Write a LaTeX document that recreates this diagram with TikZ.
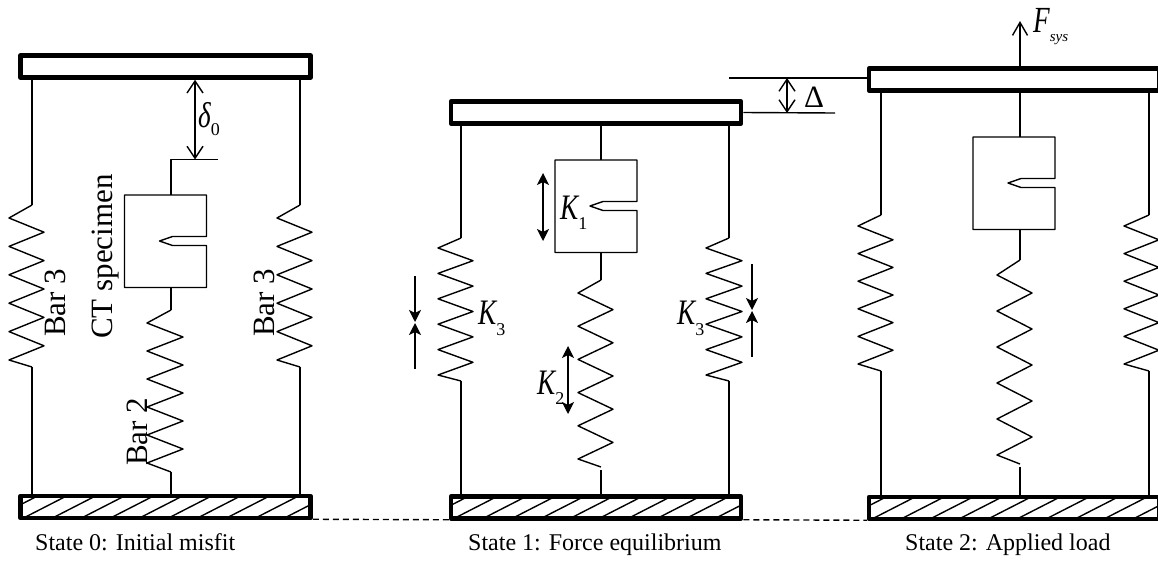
\documentclass[tikz,border=0pt]{standalone}
\usepackage{fontspec}
\setmainfont{Liberation Serif}
\usetikzlibrary{arrows.meta}

% zigzag: start, end, left x, right x, first left tip y, half period
\newcommand{\zigspring}[6]{%
  \draw[barline] (#1) \foreach \k in {0,...,4} {-- (#3,{#5+2*\k*#6}) -- (#4,{#5+(2*\k+1)*#6})}
    -- (#3,{#5+10*#6}) -- (#2);}
\newcommand{\specimen}[1]{%
  \draw[barline,shift={(#1)}] (0,0) -- (82,0) -- (82,41.5) -- (48,41.5) -- (35,46) -- (48,50.5)
    -- (82,50.5) -- (82,92.5) -- (0,92.5) -- cycle;}
% letter with a hand-placed subscript
\newcommand{\symb}[3]{\scalebox{0.85}[1.12]{\fontsize{32}{32}\selectfont\itshape #1}\raisebox{#3}{\fontsize{18}{18}\selectfont #2}}

\tikzset{
  barline/.style={line width=1.4pt,line join=round},
  plate/.style={draw,line width=4.5pt,line join=round,fill=white,inner sep=0pt,minimum width=290pt,minimum height=22pt},
  hatched/.style={path picture={\foreach \k in {-1,...,10}
    {\draw[barline] ([xshift={3pt+\k*29pt}]path picture bounding box.south west)
      -- ([xshift={46pt+\k*29pt},yshift=22pt]path picture bounding box.south west);}}},
  barb/.style={line width=1.4pt,{Straight Barb[length=12pt,width=16pt]}-{Straight Barb[length=12pt,width=16pt]}},
  force/.style={line width=1.4pt,-{Straight Barb[length=13pt,width=15pt]}},
  stiff/.style={line width=1.4pt,{Stealth[length=12pt,width=12pt,inset=3pt]}-{Stealth[length=12pt,width=12pt,inset=3pt]}},
  squeeze/.style={line width=1.4pt,-{Stealth[length=12pt,width=12pt,inset=3pt]}},
  lbl/.style={inner sep=0pt,anchor=base west},
  barlbl/.style={inner sep=0pt,anchor=base west,rotate=90,font=\fontsize{31}{31}\selectfont},
  caption/.style={inner sep=0pt,anchor=base west,font=\fontsize{24}{24}\selectfont}
}

\begin{document}
\begin{tikzpicture}[x=1pt,y=-1pt]
\useasboundingbox (0,0) rectangle (1158,560);
% ---------- state 0: initial misfit ----------
\node[plate] (top0) at (165.5,66.5) {};
\node[plate,hatched] (base0) at (165.5,507) {};
\coordinate (s0a) at (32,205); \coordinate (s0b) at (32,367);
\coordinate (s0c) at (300,205); \coordinate (s0d) at (300,367);
\draw[barline] (top0.south -| s0a) -- (s0a);
\draw[barline] (s0b) -- (base0.north -| s0b);
\draw[barline] (top0.south -| s0c) -- (s0c);
\draw[barline] (s0d) -- (base0.north -| s0d);
\zigspring{s0a}{s0b}{9}{44}{218}{14.2}
\zigspring{s0c}{s0d}{277}{312}{218}{14.2}
\coordinate (ct0) at (124.5,195); \specimen{ct0}
\coordinate (c0a) at (171,159.5); \coordinate (c0b) at (218,159.5);
\coordinate (c0c) at (171,287.5); \coordinate (c0d) at (171,310); \coordinate (c0e) at (171,472);
\coordinate (gap0) at (195,159.5);
\draw[barline] (c0b) -- (c0a) -- (c0a |- ct0);
\draw[barline] (c0c) -- (c0d);
\zigspring{c0d}{c0e}{147}{183}{323}{14}
\draw[barline] (c0e) -- (base0.north -| c0e);
\draw[barb] (top0.south -| gap0) -- (gap0);
\node[lbl] (d0) at (198,127) {\symb{\char"03B4}{0}{-8pt}};
\node[barlbl] (b3l) at (65,337) {Bar 3};
\node[barlbl] (b3r) at (274,337) {Bar 3};
\node[barlbl] (b2) at (147,466) {Bar 2};
\node[barlbl] (spec) at (112,339) {CT specimen};
\node[caption] (cap0) at (35,550) {State 0: Initial misfit};
% ---------- state 1: force equilibrium ----------
\node[plate] (top1) at (596,112.5) {};
\node[plate,hatched] (base1) at (596,507.5) {};
\coordinate (s1a) at (461,238); \coordinate (s1b) at (461,381);
\coordinate (s1c) at (729,238); \coordinate (s1d) at (729,381);
\draw[barline] (top1.south -| s1a) -- (s1a);
\draw[barline] (s1b) -- (base1.north -| s1b);
\draw[barline] (top1.south -| s1c) -- (s1c);
\draw[barline] (s1d) -- (base1.north -| s1d);
\zigspring{s1a}{s1b}{438}{473}{248}{12.7}
\zigspring{s1c}{s1d}{706}{742}{248}{12.7}
\coordinate (ct1) at (555,160); \specimen{ct1}
\coordinate (c1a) at (601,160); \coordinate (c1c) at (601,252.5);
\coordinate (c1d) at (601,280); \coordinate (c1e) at (601,467); \coordinate (c1f) at (601,470);
\draw[barline] (top1.south -| c1a) -- (c1a);
\draw[barline] (c1c) -- (c1d);
\zigspring{c1d}{c1e}{578}{613}{293}{16.6}
\draw[barline] (c1f) -- (base1.north -| c1f);
\coordinate (k1a) at (543,173); \coordinate (k1b) at (543,241);
\coordinate (k2a) at (568,346); \coordinate (k2b) at (568,414);
\draw[stiff] (k1a) -- (k1b);
\draw[stiff] (k2a) -- (k2b);
\coordinate (k3a) at (415,276); \coordinate (k3b) at (415,322);
\coordinate (k3c) at (415,369); \coordinate (k3d) at (415,323);
\coordinate (k3e) at (752,264); \coordinate (k3f) at (752,310);
\coordinate (k3g) at (752,357); \coordinate (k3h) at (752,311);
\draw[squeeze] (k3a) -- (k3b);
\draw[squeeze] (k3c) -- (k3d);
\draw[squeeze] (k3e) -- (k3f);
\draw[squeeze] (k3g) -- (k3h);
\node[lbl] (lk1) at (560,219) {\symb{K}{1}{-10pt}};
\node[lbl] (lk2) at (537,394) {\symb{K}{2}{-10pt}};
\node[lbl] (lk3l) at (478,324) {\symb{K}{3}{-11pt}};
\node[lbl] (lk3r) at (677,324) {\symb{K}{3}{-11pt}};
\node[caption] (cap1) at (468,550) {State 1: Force equilibrium};
% ---------- state 2: applied load ----------
\node[plate] (top2) at (1014,79.5) {};
\node[plate,hatched] (base2) at (1014,508) {};
\coordinate (s2a) at (881,215); \coordinate (s2b) at (881,371);
\coordinate (s2c) at (1149,215); \coordinate (s2d) at (1149,371);
\draw[barline] (top2.south -| s2a) -- (s2a);
\draw[barline] (s2b) -- (base2.north -| s2b);
\draw[barline] (top2.south -| s2c) -- (s2c);
\draw[barline] (s2d) -- (base2.north -| s2d);
\zigspring{s2a}{s2b}{858}{893}{226}{13.8}
\zigspring{s2c}{s2d}{1124}{1159}{226}{13.8}
\coordinate (ct2) at (973,137); \specimen{ct2}
\coordinate (c2a) at (1020,137); \coordinate (c2c) at (1020,229.5);
\coordinate (c2d) at (1020,260); \coordinate (c2e) at (1020,464); \coordinate (c2f) at (1020,467);
\draw[barline] (top2.south -| c2a) -- (c2a);
\draw[barline] (c2c) -- (c2d);
\zigspring{c2d}{c2e}{997}{1032}{275}{18}
\draw[barline] (c2f) -- (base2.north -| c2f);
\coordinate (load) at (1020,21);
\draw[force] (top2.north -| load) -- (load);
\node[lbl] (fsys) at (1033,32) {\scalebox{0.85}[1.15]{\fontsize{32}{32}\selectfont\itshape F}\raisebox{-9pt}{\fontsize{15}{15}\selectfont\itshape sys}};
\node[caption] (cap2) at (905,550) {State 2: Applied load};
% ---------- levels between the states ----------
\coordinate (lev1) at (835,113); \coordinate (lev2) at (729,78);
\coordinate (da) at (787,78); \coordinate (db) at (787,113);
\draw[barline] (top1.east) -- (lev1);
\draw[barline] (lev2) -- (lev2 -| top2.west);
\draw[barb] (da) -- (db);
\node[lbl] (dlt) at (804,107) {\fontsize{31}{31}\selectfont\char"0394};
\draw[barline,dashed,dash pattern=on 6pt off 4pt] ([yshift=1pt]base0.south east) -- ([yshift=1pt]base1.south west);
\draw[barline,dashed,dash pattern=on 6pt off 4pt] ([yshift=1pt]base1.south east) -- ([yshift=1pt]base2.south west);
\end{tikzpicture}
\end{document}
